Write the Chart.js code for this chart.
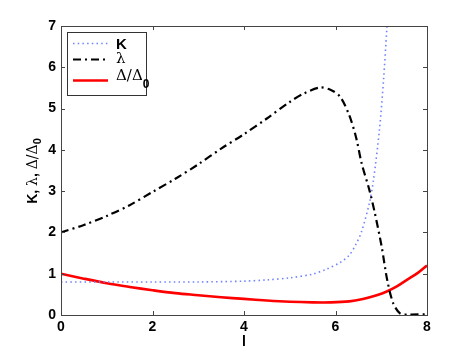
<!DOCTYPE html>
<html><head><meta charset="utf-8">
<script src="https://cdn.jsdelivr.net/npm/chart.js@4/dist/chart.umd.min.js"></script>
<style>html,body{margin:0;padding:0;background:#fff}#wrap{width:471px;height:355px}</style>
</head><body><div id="wrap"><canvas id="c" width="471" height="355"></canvas></div>
<script>
const xTicks = [0, 2, 4, 6, 8];
const yTicks = [0, 1, 2, 3, 4, 5, 6, 7];

const kX = [0, 1, 2, 3, 4, 4.5, 5, 5.5, 5.8, 6.1, 6.3, 6.45, 6.57, 6.74, 6.83, 6.96, 7.05, 7.12, 7.17];
const kY = [0.8, 0.8, 0.8, 0.8, 0.82, 0.85, 0.9, 0.99, 1.11, 1.27, 1.45, 1.72, 2.02, 2.71, 3.27, 4.48, 5.69, 6.9, 7.8];

const lamX = [0, 0.5, 1, 1.5, 2, 2.5, 3, 3.5, 4, 4.5, 5, 5.3, 5.66, 5.9, 6.1, 6.3, 6.45, 6.57, 6.74, 6.86, 7.01, 7.13, 7.26, 7.41, 7.6, 8];
const lamY = [2.0, 2.18, 2.4, 2.66, 2.98, 3.3, 3.65, 4.03, 4.38, 4.76, 5.16, 5.36, 5.51, 5.45, 5.29, 4.84, 4.3, 3.68, 3.03, 2.47, 1.65, 0.85, 0.29, 0.04, 0.01, 0.02];

const delX = [0, 0.5, 1, 1.5, 2, 2.5, 3, 3.5, 4, 4.5, 5, 5.5, 5.9, 6.3, 6.6, 6.9, 7.12, 7.35, 7.56, 7.8, 8];
const delY = [1.0, 0.88, 0.77, 0.68, 0.6, 0.53, 0.48, 0.43, 0.39, 0.35, 0.32, 0.305, 0.305, 0.33, 0.39, 0.48, 0.57, 0.7, 0.85, 1.02, 1.2];

const pts = (xs, ys) => xs.map((x, i) => ({x: x, y: ys[i]}));

const FONT = '"Liberation Sans", Arial, sans-serif';
const AXC = '#444';

const series = [
  {label: 'K', data: pts(kX, kY), borderColor: '#6f82ff', borderWidth: 1.6, borderDash: [1.5, 3.2], mode: 'default', tension: 0.3},
  {label: 'λ', data: pts(lamX, lamY), borderColor: '#000', borderWidth: 2.2, borderDash: [8, 4, 2, 4], mode: 'default', tension: 0.3},
  {label: 'Δ/Δ', sub: '0', data: pts(delX, delY), borderColor: '#ff0000', borderWidth: 2.6, borderDash: [], mode: 'default', tension: 0.35}
];

const boxPlugin = {
  id: 'box',
  afterDraw(chart) {
    const {ctx, chartArea: a, scales} = chart;
    ctx.save();
    ctx.strokeStyle = AXC; ctx.lineWidth = 1;
    ctx.strokeRect(a.left + 0.5, a.top + 0.5, a.right - a.left, a.bottom - a.top);
    const tl = 4;
    ctx.beginPath();
    xTicks.forEach(v => {
      const px = Math.round(scales.x.getPixelForValue(v)) + 0.5;
      ctx.moveTo(px, a.bottom); ctx.lineTo(px, a.bottom - tl);
      ctx.moveTo(px, a.top); ctx.lineTo(px, a.top + tl);
    });
    yTicks.forEach(v => {
      const py = Math.round(scales.y.getPixelForValue(v)) + 0.5;
      ctx.moveTo(a.left, py); ctx.lineTo(a.left + tl, py);
      ctx.moveTo(a.right, py); ctx.lineTo(a.right - tl, py);
    });
    ctx.stroke();

    // legend
    const lx = 67.5, ly = 32.5, lw = 79, lh = 63;
    ctx.fillStyle = '#fff';
    ctx.fillRect(lx, ly, lw, lh);
    ctx.strokeStyle = '#333';
    ctx.strokeRect(lx, ly, lw, lh);
    const rows = [43.5, 59.5, 80.5];
    series.forEach((s, i) => {
      ctx.beginPath();
      ctx.strokeStyle = s.borderColor;
      ctx.lineWidth = s.borderWidth;
      ctx.setLineDash(s.borderDash);
      ctx.moveTo(73, rows[i]); ctx.lineTo(108, rows[i]);
      ctx.stroke();
      ctx.setLineDash([]);
      ctx.fillStyle = '#000';
      ctx.textBaseline = 'middle';
      ctx.textAlign = 'left';
      if (i === 0) {
        ctx.font = 'bold 15px ' + FONT;
        ctx.fillText(s.label, 116, rows[i] + 1);
      } else if (i === 1) {
        ctx.font = '15px "DejaVu Serif", serif';
        ctx.fillText(s.label, 116, rows[i]);
      } else {
        ctx.font = '15px "DejaVu Serif", serif';
        ctx.fillText(s.label, 116, rows[i] - 4);
        const w = ctx.measureText(s.label).width;
        ctx.font = 'bold 12px ' + FONT;
        ctx.fillText(s.sub, 116 + w, rows[i] + 4);
      }
    });

    // y title with subscript
    ctx.save();
    ctx.translate(32, 171);
    ctx.rotate(-Math.PI / 2);
    ctx.fillStyle = '#000';
    ctx.textBaseline = 'alphabetic';
    ctx.textAlign = 'left';
    const parts = [
      {t: 'K, ', f: 'bold 14px ' + FONT, dy: 0},
      {t: 'λ', f: '14px "DejaVu Serif", serif', dy: 0},
      {t: ', ', f: 'bold 14px ' + FONT, dy: 0},
      {t: 'Δ/Δ', f: '14px "DejaVu Serif", serif', dy: 0},
      {t: '0', f: 'bold 11px ' + FONT, dy: 4}
    ];
    let total = 0;
    parts.forEach(p => { ctx.font = p.f; total += ctx.measureText(p.t).width; });
    let cx = -total / 2;
    parts.forEach(p => { ctx.font = p.f; ctx.fillText(p.t, cx, 5 + p.dy); cx += ctx.measureText(p.t).width; });
    ctx.restore();
    ctx.restore();
  }
};

new Chart(document.getElementById('c'), {
  type: 'line',
  data: {
    datasets: series.map(s => ({
      label: s.label, data: s.data, borderColor: s.borderColor, borderWidth: s.borderWidth,
      borderDash: s.borderDash, pointRadius: 0, fill: false, tension: s.tension, cubicInterpolationMode: s.mode
    }))
  },
  options: {
    responsive: false, animation: false,
    layout: {padding: {top: 26, right: 44, left: 0, bottom: 0}},
    plugins: {legend: {display: false}, tooltip: {enabled: false}},
    scales: {
      x: {
        type: 'linear', min: 0, max: 8,
        afterBuildTicks: sc => { sc.ticks = xTicks.map(v => ({value: v})); },
        afterFit: sc => { sc.height = 40; },
        grid: {display: false, drawTicks: false},
        border: {display: false},
        ticks: {color: '#000', font: {family: FONT, weight: 'bold', size: 14}, padding: 4, maxRotation: 0},
        title: {display: true, text: 'l', color: '#000', font: {family: FONT, weight: 'bold', size: 14}, padding: {top: 0}}
      },
      y: {
        type: 'linear', min: 0, max: 7,
        afterBuildTicks: sc => { sc.ticks = yTicks.map(v => ({value: v})); },
        afterFit: sc => { sc.width = 61; },
        grid: {display: false, drawTicks: false},
        border: {display: false},
        ticks: {color: '#000', font: {family: FONT, weight: 'bold', size: 14}, padding: 5}
      }
    }
  },
  plugins: [boxPlugin]
});
</script></body></html>
